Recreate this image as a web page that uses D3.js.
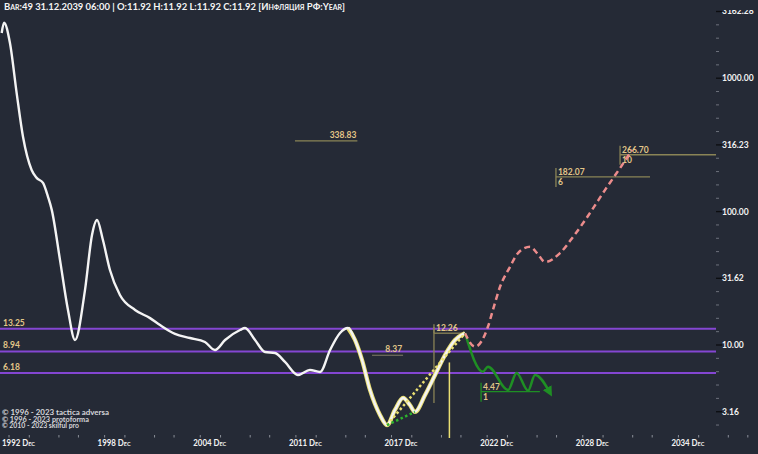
<!DOCTYPE html>
<html><head><meta charset="utf-8">
<script src="https://cdn.jsdelivr.net/npm/d3@7"></script>
<style>
html,body{margin:0;padding:0;background:#252a36;}
svg{display:block;}
text{font-family:Lato,"DejaVu Sans",sans-serif;font-weight:bold;}
</style></head><body>
<svg id="c" width="758" height="454"></svg>
<script>
// ---- data (years on x, inflation % on log y) ----
const whiteT = [1992.30,1992.45,1992.83,1993.26,1993.67,1994.22,1994.54,1994.95,1995.27,1995.51,1996.04,1996.55,1997.00,1997.64,1998.09,1998.41,1998.79,1999.24,1999.88,2000.85,2001.81,2002.45,2003.41,2004.37,2005.33,2005.97,2006.62,2007.58,2007.90,2008.54,2009.18,2009.82,2010.46,2011.29,2012.06,2012.71,2013.35,2013.99,2014.50,2014.95,2015.40,2015.91,2016.55,2017.00,2017.51,2018.03,2018.47,2018.79,2019.44,2020.08,2020.72,2021.36,2022.00];
const whiteV = [2183,2606,1836,774,362,205,179,164,129,103,43.3,18.3,10.9,25.8,66.8,86.5,61.2,36.5,23.7,18.3,15.9,14.1,12.1,11.28,10.53,9.17,10.9,12.95,13.4,10.9,8.86,8.71,7.46,5.96,6.50,6.28,9.17,12.3,13.4,10.9,7.72,4.60,2.99,2.51,3.26,4.01,3.55,3.15,4.22,5.96,8.41,10.9,12.26];
const yellowStart = 2014.50;           // yellow highlighted leg of the white line
const yellowDotT = [2017.00, 2022.00];
const yellowDotV = [2.51, 12.26];
const greenDotT = [2017.00, 2018.79];
const greenDotV = [2.51, 3.15];
const greenT = [2022.00, 2023.15, 2023.47, 2024.76, 2025.31, 2026.04, 2026.49, 2027.45];
const greenV = [12.26, 6.31, 6.88, 4.60, 6.17, 4.54, 5.96, 4.37];
const pinkT = [2022.00, 2022.64, 2023.47, 2023.79, 2024.24, 2024.88, 2025.40, 2026.17, 2026.62, 2027.13, 2028.09, 2028.92, 2030.01, 2030.97, 2031.94, 2032.71];
const pinkV = [12.26, 9.71, 13.7, 18.3, 27.2, 38.4, 48.9, 54.6, 48.9, 41.9, 48.9, 64.5, 97.6, 145, 212, 290];
const purpleLevels = [13.25, 8.94, 6.18];
const noteValues = [338.83, 8.37, 12.26, 182.07, 266.70, 4.47];
const noteText = ["338.83", "8.37", "12.26", "182.07", "266.70", "4.47"];
const noteSub = ["", "", "", "6", "10", "1"];
const noteFrom = [2011.10, 2016.04, 2020.01, 2027.83, 2031.94, 2023.03];
const noteTo = [2015.10, 2018.03, 2022.00, 2033.86, 2038.10, 2026.80];
const yTickValues = [3.16, 10, 31.62, 100, 316.23, 1000, 3162.28];
const yTickLabels = ["3.16", "10.00", "31.62", "100.00", "316.23", "1000.00", "3162.28"];
const xTickYears = [1992.32, 1998.45, 2004.58, 2010.71, 2016.84, 2022.97, 2029.10, 2035.23];
const xTickLabels = ["1992 Dec", "1998 Dec", "2004 Dec", "2011 Dec", "2017 Dec", "2022 Dec", "2028 Dec", "2034 Dec"];
const markerYear = 2021.00;   // yellow vertical marker
const markerYear2 = 2020.01;  // olive vertical marker
const header = "Bar:49 31.12.2039 06:00 | O:11.92 H:11.92 L:11.92 C:11.92  [Инфляция РФ:Year]";
const credits = ["© 1996 - 2023 tactica adversa", "© 1996 - 2023 protoforma", "© 2010 - 2023 skilful pro"];

// ---- scales ----
const svg = d3.select("#c");
const x = d3.scaleLinear().domain([1997, 2022]).range([75, 465]);
const y = d3.scaleLog().domain([10, 1000]).range([345, 78.2]);
const axisX = 716;

const TAN = "#e2c688", OLIVE = "#8a8456", PURPLE = "#8446d2",
      WHITE = "#f4f4f4", YEL = "#eadf72", GREEN = "#1f8f24", PINK = "#ec8c8c";

const defs = svg.append("defs");
defs.append("clipPath").attr("id","plot").append("rect").attr("x",0).attr("y",0).attr("width",axisX).attr("height",438);
defs.append("clipPath").attr("id","ax").append("rect").attr("x",axisX).attr("y",10).attr("width",60).attr("height",440);
defs.append("marker").attr("id","garrow").attr("viewBox","0 0 10 10").attr("refX",6).attr("refY",5)
  .attr("markerWidth",4).attr("markerHeight",4).attr("orient","auto")
  .append("path").attr("d","M0,0 L10,5 L0,10 z").attr("fill",GREEN);

const plot = svg.append("g").attr("clip-path","url(#plot)");

// purple horizontal levels
plot.selectAll(".lvl").data(purpleLevels).join("line")
  .attr("x1",0).attr("x2",axisX).attr("y1",d=>y(d)).attr("y2",d=>y(d))
  .attr("stroke",PURPLE).attr("stroke-width",2);
svg.selectAll(".lvlt").data(purpleLevels).join("text")
  .attr("x",3).attr("y",d=>y(d)-3).attr("fill",TAN).attr("font-size",8.5).text(d=>d.toFixed(2));

const zip = (T,V)=>T.map((t,i)=>[t,V[i]]);
const line = d3.line().x(d=>x(d[0])).y(d=>y(d[1])).curve(d3.curveMonotoneX);
const lin = d3.line().x(d=>x(d[0])).y(d=>y(d[1]));

// annotations
const notes = noteValues.map((v,i)=>({v, t:noteText[i], s:noteSub[i], a:noteFrom[i], b:noteTo[i], i}));
notes.forEach(n=>{
  const yy = y(n.v);
  const isGreen = n.i===5;
  const col = isGreen ? GREEN : (n.i===1 ? "#6e6b5c" : OLIVE);
  plot.append("line").attr("x1",x(n.a)).attr("x2",x(n.b)).attr("y1",yy).attr("y2",yy)
    .attr("stroke",col).attr("stroke-width",1.3);
  if (n.i<=1) {
    plot.append("text").attr("x",x(n.b)-1).attr("y",yy-3).attr("text-anchor","end")
      .attr("fill",TAN).attr("font-size",8.5).text(n.t);
  } else {
    plot.append("line").attr("x1",x(n.a)).attr("x2",x(n.a)).attr("y1",yy-9).attr("y2",yy+ (n.s?10:0))
      .attr("stroke",col).attr("stroke-width",1.3);
    plot.append("text").attr("x",x(n.a)+2).attr("y",yy-2).attr("fill",TAN).attr("font-size",8.5).text(n.t);
    if (n.s) plot.append("text").attr("x",x(n.a)+2).attr("y",yy+8).attr("fill",TAN).attr("font-size",8.5).text(n.s);
  }
});
// vertical markers
plot.append("line").attr("x1",x(markerYear2)).attr("x2",x(markerYear2)).attr("y1",y(13.6)).attr("y2",403)
  .attr("stroke",OLIVE).attr("stroke-width",1.3);
plot.append("line").attr("x1",x(markerYear)).attr("x2",x(markerYear)).attr("y1",y(7.4)).attr("y2",438)
  .attr("stroke",YEL).attr("stroke-width",1.5);

// series
const whiteData = zip(whiteT, whiteV);
const yellowData = whiteData.filter(d=>d[0]>=yellowStart);
plot.append("path").attr("d",line(yellowData)).attr("fill","none").attr("stroke",YEL).attr("stroke-width",4.2);
plot.append("path").attr("d",line(whiteData)).attr("fill","none").attr("stroke",WHITE).attr("stroke-width",2.4);
plot.append("path").attr("d",lin(zip(yellowDotT,yellowDotV))).attr("fill","none").attr("stroke",YEL)
  .attr("stroke-width",2.5).attr("stroke-dasharray","2.5,2.5");
plot.append("path").attr("d",lin(zip(greenDotT,greenDotV))).attr("fill","none").attr("stroke","#2db22d")
  .attr("stroke-width",2.5).attr("stroke-dasharray","2.5,2.5");
plot.append("path").attr("d",line(zip(greenT,greenV))).attr("fill","none").attr("stroke",GREEN)
  .attr("stroke-width",2.5).attr("marker-end","url(#garrow)");
plot.append("path").attr("d",line(zip(pinkT,pinkV))).attr("fill","none").attr("stroke",PINK)
  .attr("stroke-width",2.5).attr("stroke-dasharray","6,4");

// right axis
const ax = svg.append("g");
const minor = d3.range(4,36).filter(k=>k%5!==0).map(k=>Math.pow(10,k/10));
ax.selectAll(".mn").data(minor).join("line").attr("x1",axisX).attr("x2",axisX+3)
  .attr("y1",d=>y(d)).attr("y2",d=>y(d)).attr("stroke","#6d717c").attr("stroke-width",1);
const axg = ax.append("g").attr("clip-path","url(#ax)");
axg.selectAll(".mj").data(yTickValues).join("line").attr("x1",axisX).attr("x2",axisX+6)
  .attr("y1",d=>y(d)).attr("y2",d=>y(d)).attr("stroke","#0c0d10").attr("stroke-width",1.3);
axg.selectAll(".mt").data(yTickValues).join("text").attr("x",axisX+6).attr("y",d=>y(d)+3)
  .attr("fill","#f2f2f2").attr("font-size",8.5).text((d,i)=>yTickLabels[i]);

// bottom axis
const xOff = [0.45, 1.75, 3.65, 4.9];
const xMinor = xTickYears.flatMap(t=>xOff.map(o=>t+o));
svg.selectAll(".xm").data(xMinor).join("line").attr("x1",d=>x(d)).attr("x2",d=>x(d))
  .attr("y1",435).attr("y2",437.5).attr("stroke","#8a8e98").attr("stroke-width",1);
svg.selectAll(".xl").data(xTickYears).join("text").attr("x",d=>x(d)).attr("y",446)
  .attr("fill","#f2f2f2").attr("font-size",8.5).style("font-variant","small-caps")
  .attr("textLength",33).attr("lengthAdjust","spacingAndGlyphs").text((d,i)=>xTickLabels[i]);

// header & credits
svg.append("text").attr("x",4).attr("y",10).attr("fill","#f4f4f4").attr("font-size",9.5)
  .style("font-variant","small-caps").attr("textLength",341).attr("lengthAdjust","spacingAndGlyphs").text(header);
const creditLen = [107, 87, 77];
svg.selectAll(".cr").data(credits).join("text").attr("x",2).attr("y",(d,i)=>414.8+i*6.8)
  .attr("fill","#d6d6da").attr("font-size",6.6)
  .attr("textLength",(d,i)=>creditLen[i]).attr("lengthAdjust","spacingAndGlyphs").text(d=>d);
</script></body></html>
